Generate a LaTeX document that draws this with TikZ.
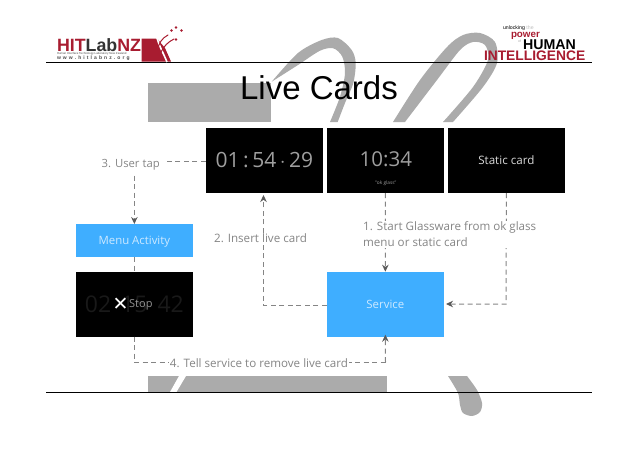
\documentclass[tikz,border=0pt]{standalone}
\usepackage{xcolor}
\usepackage{fontspec}
\setmainfont{Open Sans}
\setsansfont{Liberation Sans}
\newfontfamily\symbfont{DejaVu Sans}
\usetikzlibrary{arrows.meta,positioning}
\definecolor{bandgray}{HTML}{ABABAB}
\definecolor{labelgray}{HTML}{858585}
\definecolor{tipgray}{HTML}{5A5A5A}
\definecolor{glassblue}{HTML}{3FAEFF}
\definecolor{logored}{HTML}{A81C30}
\definecolor{textblue}{HTML}{CDE9FF}

\begin{document}
\begin{tikzpicture}[
    x=1pt, y=-1pt,
    swoosh/.style={fill=bandgray},
    card/.style={fill=black, minimum width=117.3pt, minimum height=65pt, inner sep=0pt, outer sep=0pt, align=center},
    bluebox/.style={fill=glassblue, text=textblue, minimum width=117.3pt, inner sep=0pt, outer sep=0pt, font=\fontsize{11.4}{13}\selectfont},
    steplabel/.style={text=labelgray, fill=white, inner sep=1pt, align=left, font=\fontsize{11.6}{16}\selectfont},
    dashline/.style={dashed, dash pattern=on 5pt off 3.5pt, line width=1pt, draw=labelgray},
    arrowline/.style={dashline, -{Stealth[length=7pt, width=6.5pt, color=tipgray]}},
    rule/.style={line width=0.8pt, draw=black},
    logotext/.style={inner sep=0pt, outer sep=0pt, font=\sffamily\bfseries}
]
\useasboundingbox (0,0) rectangle (638,451);

% ===== TEMPLATE =====
\fill[swoosh] (148,83) rectangle (271,122);
\fill[swoosh] (148,376) rectangle (387,392);
\path[fill=white] (179,376) -- (186,376) -- (176.5,392) -- (170,392) -- cycle;
\fill[swoosh] plot[smooth] coordinates {(271.7,81.7) (298,53) (321.7,40) (338,38) (351.7,50) (355.7,63) (353.3,83) (345,103) (337.7,122)} -- (330,122) -- plot[smooth] coordinates {(330,122) (340,96.7) (345,73.3) (342.3,56.7) (333.3,48.3) (320,50.7) (298,65) (271.7,81.7)} -- cycle;
\fill[swoosh] plot[smooth] coordinates {(393,122) (420,80) (447,47) (463,35) (480,33) (495,42) (497,63) (483,87) (453,122)} -- (443,122) -- plot[smooth] coordinates {(443,122) (473,87) (488,60) (485,45) (473,42) (460,50) (437,80) (405,122)} -- cycle;
\fill[swoosh] (448,376) -- (467,376) -- plot[smooth] coordinates {(467,376) (477,390) (482,403) (480,412) (472,416) (463,413) (460,405) (458,393) (448,376)} -- cycle;

\coordinate (ruleTL) at (46,62);
\coordinate (ruleTR) at (592,62);
\coordinate (ruleBL) at (46,392);
\coordinate (ruleBR) at (592,392);
\draw[rule] (ruleTL) -- (ruleTR);
\draw[rule] (ruleBL) -- (ruleBR);

\node[font=\sffamily\fontsize{33}{36}\selectfont, inner sep=0pt] (title) at (319,88) {Live Cards};

% ===== LEFT LOGO =====
\node[logotext, anchor=west, font=\sffamily\bfseries\fontsize{17.8}{20}\selectfont] (hitlab) at (57,45) {\textcolor{logored}{HIT}\textcolor{black!80}{Lab}\textcolor{logored}{NZ}};
\node[logotext, anchor=west, font=\sffamily\fontsize{2.9}{3}\selectfont, text=black!70] (hitname) at (57,54) {Human Interface Technology Laboratory New Zealand};
\node[logotext, anchor=west, font=\sffamily\bfseries\fontsize{5}{5}\selectfont, text=black!70] (hitweb) at (57,58.5) {\addfontfeature{LetterSpace=42}www.hitlabnz.org};
\fill[logored] (141.5,38.5) -- (157,38.5) -- (165,48) -- (171,61.5) -- (141.5,61.5) -- cycle;
\draw[white, line width=1.6pt] (157,38) .. controls (160,48) and (162,50) .. (167,62);
\draw[logored, line width=1pt, line cap=round] (158,50) .. controls (158,44) and (162,38) .. (168,35);
\draw[logored, line width=1pt, line cap=round] (161,52) .. controls (164,46) and (168,42) .. (174,39);
\fill[logored] (171.5,30.5) circle (1.4) (176,27.5) circle (1.4) (181.5,30.5) circle (1.4) (176,39.5) circle (1.4);

% ===== RIGHT LOGO =====
\node[logotext, anchor=west, font=\sffamily\fontsize{5.2}{6}\selectfont] (unlock) at (503,28.5) {unlocking \textcolor{black!25}{the}};
\node[logotext, anchor=west, text=logored, font=\sffamily\bfseries\fontsize{9.8}{10}\selectfont] (power) at (511,36.3) {power};
\node[logotext, anchor=east, text=black!35, font=\sffamily\fontsize{3.5}{4}\selectfont] (ofword) at (521,41.5) {of};
\node[logotext, anchor=west, font=\sffamily\bfseries\fontsize{14.2}{14}\selectfont] (human) at (523,44.5) {HUMAN};
\node[logotext, anchor=west, text=logored, font=\sffamily\bfseries\fontsize{13.8}{14}\selectfont] (intel) at (484,55.8) {INTELLIGENCE};

% ===== CARDS =====
\node[card, anchor=north west] (timer) at (205.7,128) {};
\node[card, right=3.7pt of timer] (clock) {};
\node[card, right=3.7pt of clock, text=white!85!black, text height=10pt, text depth=2pt, font=\fontsize{11.6}{13}\selectfont] (static) {Static card};
\node[text=gray!75, font=\fontsize{21}{25}\selectfont, inner sep=0pt] (timertext) at (timer.center) {01\,:\,54\,$\cdot$\,29};
\node[text=gray!75, font=\fontsize{20.5}{25}\selectfont, inner sep=0pt] (clocktext) at (385.8,159) {10:34};
\node[text=gray!75, font=\fontsize{4.8}{5}\selectfont, inner sep=0pt] (okglass) at (385.8,183) {"ok glass"};

\node[bluebox, anchor=north west, minimum height=33pt, text height=10pt, text depth=2pt] (menu) at (75.7,224) {Menu Activity};
\node[card, below=14.7pt of menu] (stopcard) {};
\node[text=black!90, font=\fontsize{23}{25}\selectfont, inner sep=0pt] (stopdigits) at (stopcard.center) {02\hspace{10pt}15\hspace{10pt}42};
\node[text=white, font=\symbfont\bfseries\fontsize{19}{20}\selectfont, inner sep=0pt] (stopcross) at (120.5,304.5) {✕};
\node[text=gray!85, font=\fontsize{11}{12}\selectfont, inner sep=0pt, anchor=west] (stopword) at (129,305) {Stop};

\node[bluebox, minimum height=65pt, anchor=north west] (service) at (326.7,271.7) {Service};

% ===== CONNECTORS =====
\coordinate (stopbend) at (134,362);
\coordinate (servicebend) at (385.5,362);
\coordinate (staticbend) at (506,304);
\coordinate (insertbend) at (263.5,305.7);
\node[text=labelgray, inner sep=1pt, font=\fontsize{11.3}{12}\selectfont] (usertap) at (130.7,165) {3. User tap};

\draw[dashline] (timer.west |- 0,161.5) -- ([xshift=6pt]usertap.east |- 0,161.5);
\draw[arrowline] ([yshift=-4pt]usertap.south -| menu.north) -- (menu.north);
\draw[dashline] (menu.south) -- (stopcard.north);
\draw[arrowline] (service.west |- insertbend) -- (insertbend) -- ([yshift=-2pt]insertbend |- timer.south);
\draw[arrowline] (clock.south) -- (service.north);
\draw[arrowline] (static.south) -- (staticbend) -- ([xshift=2pt]service.east |- staticbend);
\draw[dashline] (stopbend |- stopcard.south) -- (stopbend) -- (servicebend);
\draw[arrowline] (servicebend) -- ([yshift=2pt]service.south);

\node[steplabel] (insert) at (260.5,238.5) {2. Insert live card};
\node[steplabel, anchor=north west] (start) at (362,220.5) {1. Start Glassware from ok glass\\menu or static card};
\node[steplabel] (remove) at (259,363) {4. Tell service to remove live card};

\end{tikzpicture}
\end{document}
